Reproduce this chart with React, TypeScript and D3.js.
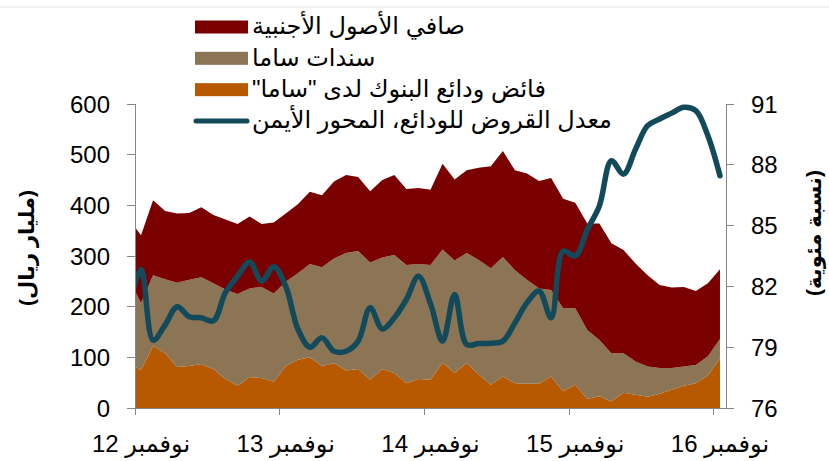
import { useEffect, useRef } from 'react';
import * as d3 from 'd3';

// monthly, Oct 2012 (only partly visible at the left edge) to Nov 2016
const months = d3.timeMonth.range(new Date(2012, 9, 1), new Date(2016, 11, 1));

// billion riyals
const bankDeposits = [89, 75, 123, 108, 81, 83, 87, 77, 57, 44, 61, 59, 52, 83, 95, 100, 83, 89, 74, 77, 56, 77, 69, 49, 57, 56, 90, 69, 89, 66, 46, 62, 49, 48, 48, 62, 33, 46, 18, 23, 13, 30, 26, 22, 28, 36, 44, 49, 64, 98];
const samaBonds = [165, 132, 139, 146, 166, 170, 171, 169, 177, 181, 175, 180, 174, 166, 171, 184, 195, 206, 232, 233, 231, 220, 233, 233, 227, 226, 223, 222, 217, 226, 230, 236, 223, 205, 188, 171, 164, 151, 136, 111, 95, 78, 66, 60, 51, 43, 38, 36, 38, 38];
const foreignAssets = [118, 134, 148, 135, 137, 132, 138, 135, 138, 138, 142, 124, 140, 135, 136, 143, 142, 152, 154, 146, 141, 153, 158, 150, 150, 149, 169, 160, 163, 182, 201, 209, 197, 210, 212, 221, 216, 208, 210, 230, 217, 204, 193, 180, 164, 159, 157, 146, 144, 138];
// percent, right axis
const loanDeposit = [81.0, 82.84, 79.35, 80.1, 81.0, 80.5, 80.45, 80.3, 81.7, 82.5, 83.2, 82.26, 82.97, 82.0, 79.9, 79.0, 79.46, 78.8, 78.8, 79.3, 80.95, 79.9, 80.45, 81.36, 82.5, 81.15, 79.3, 81.6, 79.13, 79.18, 79.2, 79.3, 80.2, 81.2, 81.77, 80.45, 83.74, 83.5, 84.8, 85.97, 88.2, 87.54, 88.77, 89.93, 90.26, 90.55, 90.84, 90.67, 89.43, 87.46];

const xTickLabels = ['نوفمبر 12', 'نوفمبر 13', 'نوفمبر 14', 'نوفمبر 15', 'نوفمبر 16'];
const leftTicks = [0, 100, 200, 300, 400, 500, 600];
const rightTicks = [76, 79, 82, 85, 88, 91];

const legendItems = [
  { label: 'صافي الأصول الأجنبية', color: '#7a0000', type: 'rect' },
  { label: 'سندات ساما', color: '#8b7555', type: 'rect' },
  { label: 'فائض ودائع البنوك لدى "ساما"\u200F', color: '#b65900', type: 'rect' },
  { label: 'معدل القروض للودائع، المحور الأيمن', color: '#124a5c', type: 'line' },
];

const App = () => {
  const svgRef = useRef(null);

  useEffect(() => {
    const width = 829;
    const height = 461;
    const left = 135;
    const right = 726;
    const top = 104;
    const bottom = 408;
    const numFont = '"Liberation Sans", Arial, sans-serif';
    const arFont = '"Liberation Sans", "DejaVu Sans", sans-serif';
    const axisColor = '#868686';

    const svg = d3.select(svgRef.current);
    svg.selectAll('*').remove();
    svg.attr('width', width).attr('height', height);

    // light frame line at the top
    svg.append('line')
      .attr('x1', 0).attr('x2', width).attr('y1', 7).attr('y2', 7)
      .attr('stroke', '#e3e3e3');

    const x = d3.scaleLinear().domain([0.5, months.length - 0.5]).range([left, right]);
    const y = d3.scaleLinear().domain([0, 600]).range([bottom, top]);
    const y2 = d3.scaleLinear().domain([76, 91]).range([bottom, top]);

    svg.append('defs').append('clipPath').attr('id', 'plot')
      .append('rect')
      .attr('x', left).attr('y', 0)
      .attr('width', right - left).attr('height', bottom);

    const rows = months.map((m, i) => ({
      date: m,
      deposits: bankDeposits[i],
      bonds: samaBonds[i],
      foreign: foreignAssets[i],
    }));

    const stack = d3.stack().keys(['deposits', 'bonds', 'foreign']);
    const series = stack(rows);
    const colors = ['#b65900', '#8b7555', '#7a0000'];

    const area = d3.area()
      .x((d, i) => x(i))
      .y0(d => y(d[0]))
      .y1(d => y(d[1]));

    const plot = svg.append('g').attr('clip-path', 'url(#plot)');

    plot.selectAll('path.area')
      .data(series)
      .enter()
      .append('path')
      .attr('class', 'area')
      .attr('d', area)
      .attr('fill', (d, i) => colors[i]);

    const line = d3.line()
      .x((d, i) => x(i))
      .y(d => y2(d))
      .curve(d3.curveCatmullRom.alpha(0.5));

    plot.append('path')
      .attr('d', line(loanDeposit))
      .attr('fill', 'none')
      .attr('stroke', '#124a5c')
      .attr('stroke-width', 5.5)
      .attr('stroke-linecap', 'round')
      .attr('stroke-linejoin', 'round');

    // axes
    const axes = svg.append('g')
      .attr('stroke', axisColor)
      .attr('stroke-width', 1)
      .attr('shape-rendering', 'crispEdges');

    axes.append('line').attr('x1', left).attr('x2', left).attr('y1', top).attr('y2', bottom);
    axes.append('line').attr('x1', right).attr('x2', right).attr('y1', top).attr('y2', bottom);
    axes.append('line').attr('x1', left).attr('x2', right).attr('y1', bottom).attr('y2', bottom);

    axes.selectAll('line.lt')
      .data(leftTicks)
      .enter()
      .append('line')
      .attr('x1', left - 8).attr('x2', left)
      .attr('y1', d => y(d)).attr('y2', d => y(d));

    axes.selectAll('line.rt')
      .data(rightTicks)
      .enter()
      .append('line')
      .attr('x1', right).attr('x2', right + 8)
      .attr('y1', d => y2(d)).attr('y2', d => y2(d));

    const xTickIdx = xTickLabels.map((d, i) => 1 + i * 12);

    axes.selectAll('line.xt')
      .data(xTickIdx)
      .enter()
      .append('line')
      .attr('x1', d => x(d - 0.5)).attr('x2', d => x(d - 0.5))
      .attr('y1', bottom).attr('y2', bottom + 7);

    svg.selectAll('text.lt')
      .data(leftTicks)
      .enter()
      .append('text')
      .attr('x', 110)
      .attr('y', d => y(d))
      .attr('dy', '0.36em')
      .attr('text-anchor', 'end')
      .style('font-family', numFont)
      .style('font-size', '24px')
      .attr('fill', '#000')
      .text(d => d);

    svg.selectAll('text.rt')
      .data(rightTicks)
      .enter()
      .append('text')
      .attr('x', 751)
      .attr('y', d => y2(d))
      .attr('dy', '0.36em')
      .attr('text-anchor', 'start')
      .style('font-family', numFont)
      .style('font-size', '24px')
      .attr('fill', '#000')
      .text(d => d);

    svg.selectAll('text.xt')
      .data(xTickLabels)
      .enter()
      .append('text')
      .attr('x', (d, i) => x(xTickIdx[i]))
      .attr('y', 452)
      .attr('text-anchor', 'middle')
      .style('font-family', arFont)
      .style('font-size', '24px')
      .attr('fill', '#000')
      .text(d => d);

    // axis titles
    svg.append('text')
      .attr('transform', 'translate(27,248) rotate(-90)')
      .attr('text-anchor', 'middle')
      .attr('dy', '0.35em')
      .style('font-family', arFont)
      .style('font-size', '21px')
      .style('font-weight', 'bold')
      .text('\u200F(مليار ريال)\u200F');

    svg.append('text')
      .attr('transform', 'translate(814,233) rotate(-90)')
      .attr('text-anchor', 'middle')
      .attr('dy', '0.35em')
      .style('font-family', arFont)
      .style('font-size', '21px')
      .style('font-weight', 'bold')
      .text('\u200F(نسبة مئوية)\u200F');

    // legend
    const legend = svg.append('g');
    const rowY = d3.scalePoint().domain(legendItems.map(d => d.label)).range([27, 121]);

    legendItems.forEach(item => {
      const cy = rowY(item.label);
      if (item.type === 'rect') {
        legend.append('rect')
          .attr('x', 195).attr('y', cy - 6.5)
          .attr('width', 53).attr('height', 13)
          .attr('fill', item.color);
      } else {
        legend.append('line')
          .attr('x1', 196).attr('x2', 247)
          .attr('y1', cy).attr('y2', cy)
          .attr('stroke', item.color)
          .attr('stroke-width', 5)
          .attr('stroke-linecap', 'round');
      }
      legend.append('text')
        .attr('x', 252)
        .attr('y', cy)
        .attr('dy', '0.3em')
        .style('font-family', arFont)
        .style('font-size', '24px')
        .attr('fill', '#000')
        .text(item.label);
    });
  }, []);

  return (
    <svg ref={svgRef} style={{ position: 'absolute', left: 0, top: 0, display: 'block' }}></svg>
  );
};

export default App;
